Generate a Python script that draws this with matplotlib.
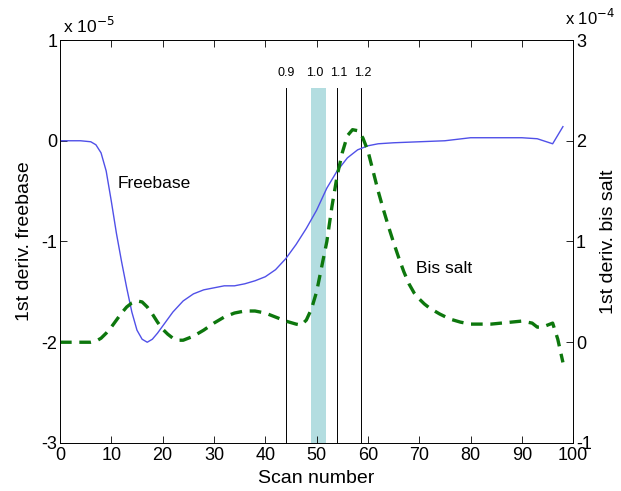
import matplotlib.pyplot as plt
import numpy as np

plt.rcParams["font.family"] = ["Liberation Sans", "DejaVu Sans"]

# freebase first derivative, units of 1e-5
fb_x = [0, 2, 4, 6, 7, 8, 9, 10, 11, 12, 13, 14, 15, 16, 17, 18, 19, 20, 22, 24,
        26, 28, 30, 32, 34, 36, 38, 40, 42, 44, 46, 48, 50, 52, 54, 56, 58, 60,
        62, 65, 70, 75, 80, 85, 90, 93, 96, 98]
fb_y = [0, 0, 0, -0.01, -0.04, -0.12, -0.3, -0.6, -0.92, -1.2, -1.46, -1.7,
        -1.88, -1.97, -2.0, -1.97, -1.91, -1.84, -1.7, -1.59, -1.52, -1.48, -1.46,
        -1.44, -1.44, -1.42, -1.39, -1.35, -1.28, -1.17, -1.03, -0.87, -0.69,
        -0.47, -0.3, -0.17, -0.09, -0.05, -0.03, -0.02, -0.01, 0.0, 0.03, 0.03,
        0.03, 0.02, -0.03, 0.14]

# bis salt first derivative, units of 1e-4
bs_x = [0, 2, 4, 6, 7, 8, 9, 10, 11, 12, 13, 14, 15, 16, 17, 18, 19, 20, 21, 22,
        23, 24, 26, 28, 30, 32, 34, 36, 38, 40, 42, 44, 46, 47, 48, 49, 50, 51,
        52, 53, 54, 55, 56, 57, 58, 59, 60, 61, 62, 63, 64, 65, 66, 67, 68, 69,
        70, 71, 72, 74, 76, 78, 80, 82, 84, 86, 88, 90, 92, 93, 94, 96, 97, 98]
bs_y = [0, 0, 0, 0, 0.01, 0.04, 0.09, 0.15, 0.22, 0.29, 0.35, 0.39, 0.41, 0.4,
        0.35, 0.28, 0.2, 0.13, 0.08, 0.04, 0.02, 0.02, 0.06, 0.12, 0.19, 0.25,
        0.29, 0.31, 0.31, 0.29, 0.25, 0.21, 0.18, 0.17, 0.22, 0.33, 0.5, 0.75,
        1.0, 1.35, 1.65, 1.88, 2.05, 2.11, 2.1, 2.03, 1.9, 1.7, 1.5, 1.32, 1.15,
        0.99, 0.84, 0.70, 0.58, 0.49, 0.43, 0.38, 0.34, 0.28, 0.23, 0.2, 0.18,
        0.18, 0.18, 0.19, 0.2, 0.21, 0.19, 0.15, 0.15, 0.19, 0.03, -0.2]

# reference ratios
ratio_lines = [44, 54, 58.7]
ratio_labels = ["0.9", "1.0", "1.1", "1.2"]
ratio_label_x = [44, 49.6, 54.3, 59.0]
band = (48.9, 51.9)

fig = plt.figure(figsize=(6.21, 4.91), dpi=100)
ax = fig.add_axes([0.0966, 0.0978, 0.8264, 0.8207])
ax2 = ax.twinx()

top = 0.52
ax.fill_between(band, -3, top, color="#b3dde0", lw=0, zorder=1)
for xv in ratio_lines:
    ax.plot([xv, xv], [-3, top], color="black", lw=0.7, zorder=2)
for xv, lab in zip(ratio_label_x, ratio_labels):
    ax.text(xv, 0.67, lab, ha="center", va="center", fontsize=9)

ax.plot(fb_x, fb_y, color="#5050e8", lw=1.0, zorder=3)
ax2.plot(bs_x, bs_y, color="#0d770d", lw=2.4, dashes=(3.5, 2.3))

ax.set_xlim(0, 100)
ax.set_ylim(-3, 1)
ax2.set_ylim(-1, 3)
ax.set_xticks(np.arange(0, 101, 10))
ax.set_yticks([-3, -2, -1, 0, 1])
ax2.set_yticks([-1, 0, 1, 2, 3])
ax.set_yticklabels(["-3", "-2", "-1", "0", "1"])
ax2.set_yticklabels(["-1", "0", "1", "2", "3"])

for a in (ax, ax2):
    a.tick_params(direction="in", length=5, width=0.6, labelsize=13)
    for s in a.spines.values():
        s.set_linewidth(0.6)
ax.tick_params(axis="x", top=True, pad=3)
ax.tick_params(axis="y", pad=2)
ax2.tick_params(axis="y", pad=2)

ax.text(11.3, -0.42, "Freebase", ha="left", va="center", fontsize=12.5)
ax.text(69.4, -1.27, "Bis salt", ha="left", va="center", fontsize=12.5)

ax.set_xlabel("Scan number", fontsize=14, labelpad=4)
ax.set_ylabel("1st deriv. freebase", fontsize=14, labelpad=6)
ax2.set_ylabel("1st deriv. bis salt", fontsize=14, labelpad=6)

ax.text(0.005, 1.01, r"x 10$^{-5}$", transform=ax.transAxes, fontsize=12.5,
        ha="left", va="bottom")
ax2.text(0.984, 1.03, r"x 10$^{-4}$", transform=ax.transAxes, fontsize=12,
         ha="left", va="bottom")

fig.savefig("out.png", dpi=100)
